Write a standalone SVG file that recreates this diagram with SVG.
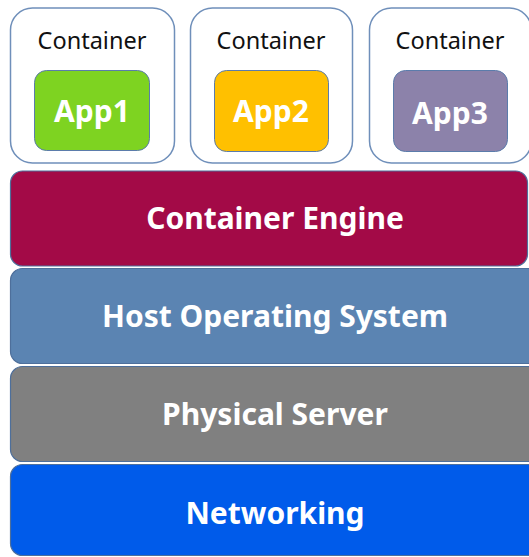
<svg xmlns="http://www.w3.org/2000/svg" width="529" height="557" viewBox="0 0 529 557">
  <style>
    .box { fill: #ffffff; stroke: #6f8fba; stroke-width: 1.5; }
    .app { stroke: #5b7cab; stroke-width: 1; }
    .layer { stroke: #4e6f9b; stroke-width: 1.2; }
    .ctext { font-family: "Noto Sans", "Open Sans", sans-serif; font-size: 23.5px; fill: #111111; text-anchor: middle; }
    .atext { font-family: "Noto Sans", "Open Sans", sans-serif; font-size: 30px; font-weight: bold; fill: #ffffff; text-anchor: middle; }
    .ltext { font-family: "Noto Sans", "Open Sans", sans-serif; font-size: 30px; font-weight: bold; fill: #ffffff; text-anchor: middle; }
  </style>
  <rect width="529" height="557" fill="#ffffff"/>

  <g id="container1">
    <rect class="box" x="10.5" y="8" width="164" height="155" rx="22"/>
    <text class="ctext" x="92" y="49">Container</text>
    <g id="app1">
      <rect class="app" x="34.5" y="70.5" width="115" height="80" rx="12" fill="#7ed321"/>
      <text class="atext" x="92" y="122">App1</text>
    </g>
  </g>

  <g id="container2">
    <rect class="box" x="190.5" y="8" width="162" height="155" rx="22"/>
    <text class="ctext" x="271" y="49">Container</text>
    <g id="app2">
      <rect class="app" x="214.5" y="70.5" width="114" height="81" rx="12" fill="#ffc000"/>
      <text class="atext" x="271" y="122">App2</text>
    </g>
  </g>

  <g id="container3">
    <rect class="box" x="369.5" y="8" width="162" height="155" rx="22"/>
    <text class="ctext" x="450" y="49">Container</text>
    <g id="app3">
      <rect class="app" x="393.5" y="70.5" width="114" height="81" rx="12" fill="#8c82aa"/>
      <text class="atext" x="450" y="124">App3</text>
    </g>
  </g>

  <g id="container-engine">
    <rect class="layer" x="10.5" y="171" width="517" height="95" rx="12" fill="#a30a47"/>
    <text class="ltext" x="275" y="229">Container Engine</text>
  </g>

  <g id="host-os">
    <rect class="layer" x="10.5" y="268.5" width="530" height="95" rx="12" fill="#5b84b2"/>
    <text class="ltext" x="275" y="327">Host Operating System</text>
  </g>

  <g id="physical-server">
    <rect class="layer" x="10.5" y="366.5" width="530" height="95" rx="12" fill="#808080"/>
    <text class="ltext" x="275" y="425">Physical Server</text>
  </g>

  <g id="networking">
    <rect class="layer" x="10.5" y="464.5" width="530" height="91" rx="12" fill="#005bea"/>
    <text class="ltext" x="275" y="524">Networking</text>
  </g>

  <g id="connectors"></g>
</svg>
